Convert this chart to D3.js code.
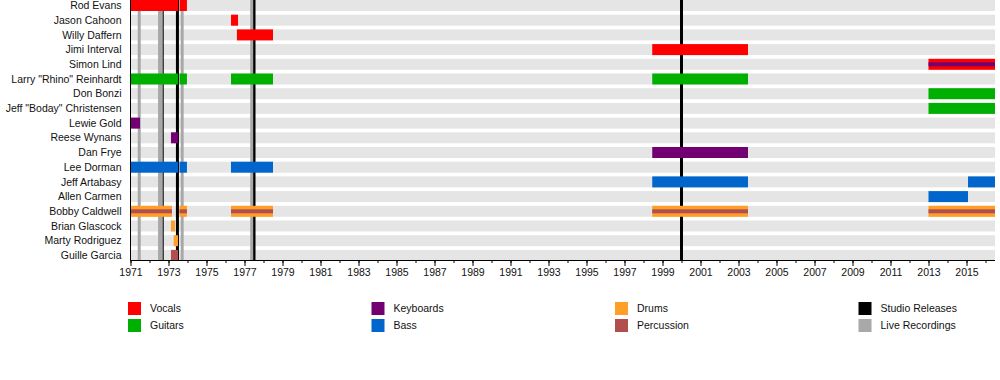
<!DOCTYPE html>
<html><head><meta charset="utf-8">
<script src="https://cdn.jsdelivr.net/npm/d3@7"></script>
<style>
html,body{margin:0;padding:0;background:#fff;}
svg{display:block;font-family:"Liberation Sans",Arial,Helvetica,sans-serif;}
</style></head>
<body>
<svg id="chart" width="1000" height="380"></svg>
<script>
const members = ["Rod Evans","Jason Cahoon","Willy Daffern","Jimi Interval","Simon Lind",
  "Larry \"Rhino\" Reinhardt","Don Bonzi","Jeff \"Boday\" Christensen","Lewie Gold","Reese Wynans",
  "Dan Frye","Lee Dorman","Jeff Artabasy","Allen Carmen","Bobby Caldwell","Brian Glascock",
  "Marty Rodriguez","Guille Garcia"];

const roles = ["Vocals","Guitars","Keyboards","Bass","Drums","Percussion"];
const roleColors = ["#ff0000","#00b000","#720072","#0066cc","#ff9f27","#b14e4e"];

const releaseTypes = ["Studio Releases","Live Recordings"];
const releaseColors = ["#000000","#a8a8a8"];

// [member, main role, start, end, stripe role]
const stints = [
  ["Rod Evans","Vocals",1971.0,1973.5,null],
  ["Rod Evans","Vocals",1973.58,1973.97,null],
  ["Jason Cahoon","Vocals",1976.29,1976.66,null],
  ["Willy Daffern","Vocals",1976.6,1978.5,null],
  ["Jimi Interval","Vocals",1998.46,2003.5,null],
  ["Simon Lind","Vocals",2013.0,2016.5,"Keyboards"],
  ["Larry \"Rhino\" Reinhardt","Guitars",1971.0,1973.5,null],
  ["Larry \"Rhino\" Reinhardt","Guitars",1973.58,1973.97,null],
  ["Larry \"Rhino\" Reinhardt","Guitars",1976.29,1978.5,null],
  ["Larry \"Rhino\" Reinhardt","Guitars",1998.46,2003.5,null],
  ["Don Bonzi","Guitars",2013.0,2016.5,null],
  ["Jeff \"Boday\" Christensen","Guitars",2013.0,2016.5,null],
  ["Lewie Gold","Keyboards",1971.0,1971.5,null],
  ["Reese Wynans","Keyboards",1973.13,1973.5,null],
  ["Dan Frye","Keyboards",1998.46,2003.5,null],
  ["Lee Dorman","Bass",1971.0,1973.5,null],
  ["Lee Dorman","Bass",1973.58,1973.97,null],
  ["Lee Dorman","Bass",1976.29,1978.5,null],
  ["Jeff Artabasy","Bass",1998.46,2003.5,null],
  ["Jeff Artabasy","Bass",2015.08,2016.5,null],
  ["Allen Carmen","Bass",2013.0,2015.08,null],
  ["Bobby Caldwell","Drums",1971.0,1973.18,"Percussion"],
  ["Bobby Caldwell","Drums",1973.58,1973.97,"Percussion"],
  ["Bobby Caldwell","Drums",1976.29,1978.5,"Percussion"],
  ["Bobby Caldwell","Drums",1998.46,2003.5,"Percussion"],
  ["Bobby Caldwell","Drums",2013.0,2016.5,"Percussion"],
  ["Brian Glascock","Drums",1973.13,1973.34,null],
  ["Marty Rodriguez","Drums",1973.27,1973.5,null],
  ["Guille Garcia","Percussion",1973.13,1973.5,null]
];

const studioReleases = [1972.67, 1973.47, 1977.5, 2000.0];
const liveRecordings = [1971.46, 1972.53, 1972.62, 1973.72, 1977.38];

const yearLabels = d3.range(1971, 2016, 2);
const yearMinor = d3.range(1971, 2017, 1);
const timeDomain = [1971, 2016.5];

const svg = d3.select("#chart");
const left = 130.5, right = 995, axisY = 260;

const x = d3.scaleLinear().domain(timeDomain).range([left, right]);
const y = d3.scaleBand().domain(members).range([0, 260.9]).paddingInner(0.2517).paddingOuter(0);
const color = d3.scaleOrdinal().domain(roles).range(roleColors);

// row backgrounds
svg.append("g").selectAll("rect").data(members).join("rect")
  .attr("x", left).attr("y", d => y(d))
  .attr("width", right - left).attr("height", y.bandwidth())
  .attr("fill", "#e5e5e5");

// release lines: studio first, live on top
svg.append("g").selectAll("line").data(studioReleases).join("line")
  .attr("x1", d => x(d)).attr("x2", d => x(d))
  .attr("y1", 0).attr("y2", axisY)
  .attr("stroke", releaseColors[0]).attr("stroke-width", 3);
svg.append("g").selectAll("line").data(liveRecordings).join("line")
  .attr("x1", d => x(d)).attr("x2", d => x(d))
  .attr("y1", 0).attr("y2", axisY)
  .attr("stroke", releaseColors[1]).attr("stroke-width", 3);

// bars
const bars = svg.append("g");
bars.selectAll("rect.main").data(stints).join("rect")
  .attr("class","main")
  .attr("x", d => x(d[2])).attr("y", d => y(d[0]))
  .attr("width", d => x(d[3]) - x(d[2])).attr("height", y.bandwidth())
  .attr("fill", d => color(d[1]));
bars.selectAll("rect.stripe").data(stints.filter(d => d[4])).join("rect")
  .attr("class","stripe")
  .attr("x", d => x(d[2])).attr("y", d => y(d[0]) + y.bandwidth()/2 - 2)
  .attr("width", d => x(d[3]) - x(d[2])).attr("height", 4)
  .attr("fill", d => color(d[4]));

// row labels
svg.append("g").selectAll("text").data(members).join("text")
  .attr("x", 121.5).attr("y", d => y(d) + y.bandwidth()/2)
  .attr("dy", "0.35em").attr("text-anchor", "end")
  .attr("font-size", "10.5px").attr("fill", "#111")
  .text(d => d);

// left axis line
svg.append("line").attr("x1", left).attr("x2", left).attr("y1", 0).attr("y2", axisY)
  .attr("stroke", "#000").attr("stroke-width", 1);

// x axis
const minorAxis = d3.axisBottom(x).tickValues(yearMinor).tickSize(3).tickFormat("");
const majorAxis = d3.axisBottom(x).tickValues(yearLabels).tickSize(6).tickPadding(3).tickFormat(d3.format("d"));
const gMinor = svg.append("g").attr("transform", `translate(0,${axisY})`).call(minorAxis);
const gMajor = svg.append("g").attr("transform", `translate(0,${axisY})`).call(majorAxis);
[gMinor, gMajor].forEach(g => {
  g.select(".domain").attr("stroke", "#000").attr("d", `M${left},0.5H${right}`);
  g.selectAll(".tick line").attr("stroke", "#000");
  g.selectAll("text").attr("font-size", "10.5px").attr("fill", "#111")
    .attr("font-family", "'Liberation Sans',Arial,sans-serif");
});

// legend
const legendItems = roles.map((r, i) => ({label: r, color: roleColors[i]}))
  .concat(releaseTypes.map((r, i) => ({label: r, color: releaseColors[i]})));
const colX = [128, 371.5, 615, 858.5];
const rowY = [302, 319];
const lg = svg.append("g").selectAll("g").data(legendItems).join("g")
  .attr("transform", (d, i) => `translate(${colX[Math.floor(i/2)]},${rowY[i%2]})`);
lg.append("rect").attr("width", 13).attr("height", 13).attr("fill", d => d.color);
lg.append("text").attr("x", 22).attr("y", 6.5).attr("dy", "0.35em")
  .attr("font-size", "10.5px").attr("fill", "#111").text(d => d.label);
</script>
</body></html>
